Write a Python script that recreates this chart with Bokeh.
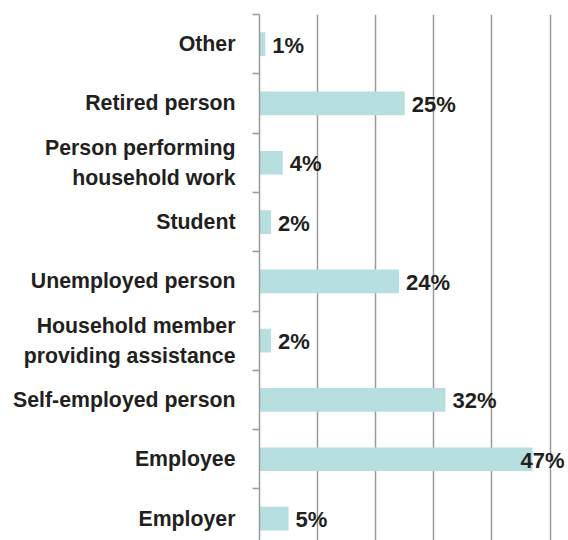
from bokeh.plotting import figure
from bokeh.models import ColumnDataSource, Range1d, FixedTicker
from bokeh.core.properties import value, field
from bokeh.embed import file_html
from bokeh.resources import INLINE

# ---- data (top to bottom) ----
categories = ["Other", "Retired person", "Person performing\nhousehold work", "Student",
              "Unemployed person", "Household member\nproviding assistance",
              "Self-employed person", "Employee", "Employer"]
shares = [1, 25, 4, 2, 24, 2, 32, 47, 5]
grid_ticks = [10, 20, 30, 40, 50]

FONT = "Liberation Sans"
BAR = "#b8dfe0"
GRID = "#9a9a9a"
INK = "#231f20"

W, H = 568, 540
LEFT, TOP = 259, 14
X_END = 53.18
Y_START = 0.13

n = len(categories)
ys = [n - i - 0.5 for i in range(n)]
labels = [f"{v}%" for v in shares]

frame_w = W - LEFT
ppu = frame_w / X_END
est_w = 46
aligns, lx, xoff = [], [], []
for v in shares:
    if v * ppu + 7 + est_w > frame_w:
        aligns.append("right"); lx.append(X_END); xoff.append(-4)
    else:
        aligns.append("left"); lx.append(v); xoff.append(7)

src = ColumnDataSource(dict(y=ys, v=shares, label=labels, lx=lx, align=aligns, xoff=xoff))

p = figure(width=W, height=H, output_backend="svg", toolbar_location=None,
           x_range=Range1d(0, X_END), y_range=Range1d(Y_START, n),
           min_border_left=LEFT, min_border_top=TOP, min_border_right=0, min_border_bottom=0,
           x_axis_location=None)
p.outline_line_color = None
p.background_fill_color = "white"
p.border_fill_color = "white"

p.hbar(y="y", right="v", left=0, height=0.4, source=src, color=BAR, line_color=None)

p.text(x="lx", y="y", text="label", source=src, text_align=field("align"), x_offset="xoff",
       text_baseline="middle", y_offset=1, text_font=value(FONT), text_font_style="bold",
       text_font_size="22px", text_color=INK)

# grid
p.xgrid.ticker = FixedTicker(ticks=grid_ticks)
p.xgrid.grid_line_color = GRID
p.xgrid.grid_line_width = 1.5
p.ygrid.grid_line_color = None

# y axis: labels at centres, small ticks at category boundaries
ax = p.yaxis[0]
ax.ticker = FixedTicker(ticks=ys, minor_ticks=list(range(0, n + 1)))
ax.major_label_overrides = {y: c for y, c in zip(ys, categories)}
ax.major_tick_out = 0
ax.major_tick_in = 0
ax.minor_tick_out = 7
ax.minor_tick_in = 0
ax.minor_tick_line_color = GRID
ax.minor_tick_line_width = 1.5
ax.axis_line_color = GRID
ax.axis_line_width = 1.5
ax.major_label_standoff = 17
ax.major_label_text_font = FONT
ax.major_label_text_font_style = "bold"
ax.major_label_text_font_size = "21.3px"
ax.major_label_text_color = INK
ax.major_label_text_line_height = 1.25

open("out.html", "w").write(file_html(p, INLINE))
